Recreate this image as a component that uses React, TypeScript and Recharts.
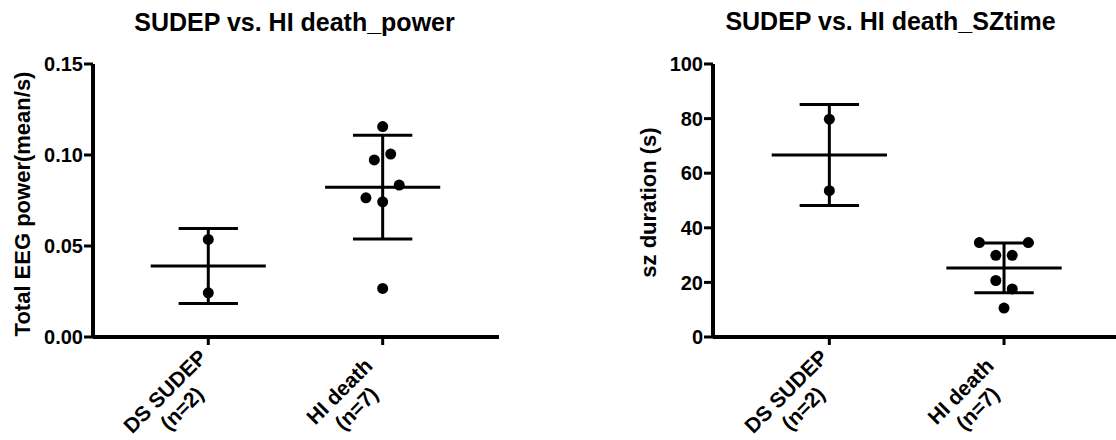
import React from 'react';
import { ScatterChart, Scatter, XAxis, YAxis, ReferenceLine } from 'recharts';

// ---- data ----
const categories = ['DS SUDEP', 'HI death'];
const groupSizes = ['(n=2)', '(n=7)'];
const categoryPos = [1, 2];

const powerSudep = [0.0536, 0.0243];
const powerSudepJitter = [0, 0];
const powerHI = [0.1156, 0.1005, 0.0973, 0.0835, 0.0765, 0.0743, 0.0267];
const powerHIJitter = [0, 0.046, -0.048, 0.095, -0.096, 0, 0];
const powerMean = [0.039, 0.0823];
const powerSD = [0.0206, 0.0285];
const powerTicks = [0, 0.05, 0.1, 0.15];

const timeSudep = [79.8, 53.6];
const timeSudepJitter = [0, 0];
const timeHI = [34.6, 34.6, 29.9, 29.9, 20.7, 17.6, 10.6];
const timeHIJitter = [-0.141, 0.139, -0.047, 0.047, -0.047, 0.047, 0];
const timeMean = [66.7, 25.3];
const timeSD = [18.5, 9.1];
const timeTicks = [0, 20, 40, 60, 80, 100];

const titles = ['SUDEP vs. HI death_power', 'SUDEP vs. HI death_SZtime'];
const yLabels = ['Total EEG power(mean/s)', 'sz duration (s)'];

// ---- styles ----
const FONT = '"Liberation Sans", Arial, Helvetica, sans-serif';
const MEAN_HALF = 0.33;
const CAP_HALF = 0.17;

const CatTick = (props: any) => {
  const { x, y, payload } = props;
  const i = categoryPos.indexOf(payload.value);
  return (
    <g transform={`translate(${x},${y})`}>
      <text transform="rotate(-45)" textAnchor="middle" fontSize={21} fontWeight="bold" fontFamily={FONT} fill="#000">
        <tspan x={-62} y={8}>{categories[i]}</tspan>
        <tspan x={-62} y={32}>{groupSizes[i]}</tspan>
      </text>
    </g>
  );
};

const Dot = (props: any) => <circle cx={props.cx} cy={props.cy} r={5.5} fill="#000" />;

function Panel(props: {
  left: number;
  width: number;
  yWidth: number;
  marginRight: number;
  xDomain: [number, number];
  yDomain: [number, number];
  yTicks: number[];
  fmt: (v: number) => string;
  groups: { vals: number[]; jit: number[] }[];
  means: number[];
  sds: number[];
}) {
  const { left, width, yWidth, marginRight, xDomain, yDomain, yTicks, fmt, groups, means, sds } = props;
  const axisStyle = { stroke: '#000', strokeWidth: 4 };
  const lineProps = { stroke: '#000', strokeWidth: 3, ifOverflow: 'visible' as const };
  return (
    <div style={{ position: 'absolute', left, top: 0 }}>
      <ScatterChart width={width} height={440} margin={{ top: 64, right: marginRight, left: 0, bottom: 0 }}>
        <XAxis
          type="number"
          dataKey="x"
          domain={xDomain}
          allowDataOverflow
          ticks={categoryPos}
          tick={<CatTick />}
          tickSize={8}
          height={103}
          axisLine={axisStyle}
          tickLine={{ stroke: '#000', strokeWidth: 3 }}
          interval={0}
        />
        <YAxis
          type="number"
          dataKey="y"
          domain={yDomain}
          ticks={yTicks}
          tickFormatter={fmt}
          width={yWidth}
          tickSize={9}
          tickMargin={1}
          interval={0}
          axisLine={axisStyle}
          tickLine={{ stroke: '#000', strokeWidth: 3 }}
          tick={{ fill: '#000', fontSize: 20, fontWeight: 'bold', fontFamily: FONT }}
        />
        {means.map((m, i) => (
          <ReferenceLine
            key={'m' + i}
            {...lineProps}
            segment={[
              { x: categoryPos[i] - MEAN_HALF, y: m },
              { x: categoryPos[i] + MEAN_HALF, y: m },
            ]}
          />
        ))}
        {means.map((m, i) => (
          <ReferenceLine
            key={'v' + i}
            {...lineProps}
            segment={[
              { x: categoryPos[i], y: m - sds[i] },
              { x: categoryPos[i], y: m + sds[i] },
            ]}
          />
        ))}
        {means.map((m, i) => (
          <ReferenceLine
            key={'u' + i}
            {...lineProps}
            segment={[
              { x: categoryPos[i] - CAP_HALF, y: m + sds[i] },
              { x: categoryPos[i] + CAP_HALF, y: m + sds[i] },
            ]}
          />
        ))}
        {means.map((m, i) => (
          <ReferenceLine
            key={'l' + i}
            {...lineProps}
            segment={[
              { x: categoryPos[i] - CAP_HALF, y: m - sds[i] },
              { x: categoryPos[i] + CAP_HALF, y: m - sds[i] },
            ]}
          />
        ))}
        {groups.map((g, gi) => (
          <Scatter
            key={'s' + gi}
            data={g.vals.map((v, k) => ({ x: categoryPos[gi] + g.jit[k], y: v }))}
            fill="#000"
            shape={<Dot />}
            isAnimationActive={false}
          />
        ))}
      </ScatterChart>
    </div>
  );
}

export default function App() {
  return (
    <div style={{ position: 'absolute', left: 0, top: 0, width: 1116, height: 440, overflow: 'hidden', background: '#fff' }}>
      <Panel
        left={0}
        width={520}
        yWidth={93}
        marginRight={21}
        xDomain={[0.339, 2.667]}
        yDomain={[0, 0.15]}
        yTicks={powerTicks}
        fmt={(v) => v.toFixed(2)}
        groups={[
          { vals: powerSudep, jit: powerSudepJitter },
          { vals: powerHI, jit: powerHIJitter },
        ]}
        means={powerMean}
        sds={powerSD}
      />
      <Panel
        left={600}
        width={516}
        yWidth={113}
        marginRight={0}
        xDomain={[0.334, 2.641]}
        yDomain={[0, 100]}
        yTicks={timeTicks}
        fmt={(v) => String(v)}
        groups={[
          { vals: timeSudep, jit: timeSudepJitter },
          { vals: timeHI, jit: timeHIJitter },
        ]}
        means={timeMean}
        sds={timeSD}
      />
      <svg width={1116} height={440} style={{ position: 'absolute', left: 0, top: 0, pointerEvents: 'none' }}>
        <text x={294.5} y={31} textAnchor="middle" fontSize={25} fontWeight="bold" fontFamily={FONT} fill="#000">
          {titles[0]}
        </text>
        <text x={890.5} y={30} textAnchor="middle" fontSize={25} fontWeight="bold" fontFamily={FONT} fill="#000">
          {titles[1]}
        </text>
        <text transform="translate(29.5,204) rotate(-90)" textAnchor="middle" fontSize={22} fontWeight="bold" fontFamily={FONT} fill="#000">
          {yLabels[0]}
        </text>
        <text transform="translate(656,202.5) rotate(-90)" textAnchor="middle" fontSize={22} fontWeight="bold" fontFamily={FONT} fill="#000">
          {yLabels[1]}
        </text>
      </svg>
    </div>
  );
}
